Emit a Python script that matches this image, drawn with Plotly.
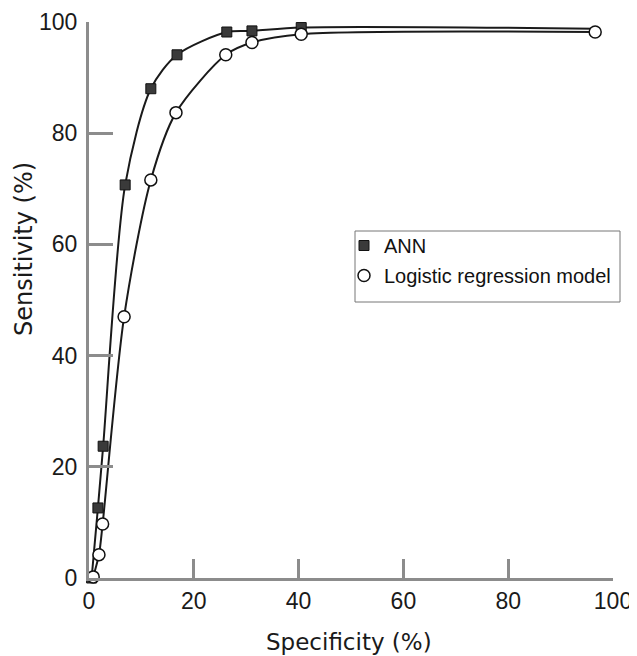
import plotly.graph_objects as go

# Data
ann_spec = [0.5, 1.7, 2.7, 6.9, 11.8, 16.8, 26.3, 31.1, 40.5, 96.6]
ann_sens = [0.0, 12.6, 23.7, 70.7, 88.0, 94.1, 98.2, 98.4, 99.0, 98.8]
lr_spec = [0.8, 1.9, 2.6, 6.7, 11.8, 16.6, 26.1, 31.1, 40.5, 96.6]
lr_sens = [0.2, 4.2, 9.7, 47.0, 71.6, 83.7, 94.1, 96.3, 97.8, 98.2]
x_ticks = [0, 20, 40, 60, 80, 100]
y_ticks = [0, 20, 40, 60, 80, 100]

FONT = "Liberation Sans, Arial, sans-serif"
TITLE_FONT = "DejaVu Sans, Verdana, sans-serif"
AXIS_GRAY = "#8c8c8c"
INK = "#1a1a1a"

fig = go.Figure()

fig.add_trace(go.Scatter(
    x=ann_spec, y=ann_sens, mode="lines",
    line=dict(color=INK, width=2, shape="spline", smoothing=0.8),
    showlegend=False, cliponaxis=False, hoverinfo="skip"))
fig.add_trace(go.Scatter(
    x=lr_spec, y=lr_sens, mode="lines",
    line=dict(color=INK, width=2, shape="spline", smoothing=0.8),
    showlegend=False, cliponaxis=False, hoverinfo="skip"))
fig.add_trace(go.Scatter(
    x=ann_spec[:-1], y=ann_sens[:-1], mode="markers", name="ANN", legendgroup="a",
    marker=dict(symbol="square", size=10, color="#3a3a3a", line=dict(color="#111111", width=1)),
    cliponaxis=False))
fig.add_trace(go.Scatter(
    x=lr_spec, y=lr_sens, mode="markers", name="Logistic regression model", legendgroup="b",
    marker=dict(symbol="circle", size=12, color="white", line=dict(color="#111111", width=1.5)),
    cliponaxis=False))

# page pixel geometry (the page body adds an 8px offset)
OFF = 8
PAGE_W, PAGE_H = 637, 656
PLOT_L, PLOT_R, PLOT_T, PLOT_B = 89, 613, 22, 578
W, H = PAGE_W - OFF, PAGE_H - OFF


def px_to_paper(px, py):
    return (px - PLOT_L) / (PLOT_R - PLOT_L), (PLOT_B - py) / (PLOT_B - PLOT_T)


lx0, ly0 = px_to_paper(355, 231)
lx1, ly1 = px_to_paper(620, 302)
leg_x, leg_y = px_to_paper(344, 226)
ytx, yty = px_to_paper(24, 249)
xtx, xty = px_to_paper(349, 642)

fig.update_layout(
    width=W, height=H,
    margin=dict(l=PLOT_L - OFF, r=W - (PLOT_R - OFF), t=PLOT_T - OFF, b=H - (PLOT_B - OFF)),
    paper_bgcolor="white", plot_bgcolor="white",
    font=dict(family=FONT, color=INK),
    legend=dict(
        x=leg_x, y=leg_y, xanchor="left", yanchor="top",
        bgcolor="rgba(0,0,0,0)", borderwidth=0,
        font=dict(size=20, family=FONT, color="#111111"),
        itemwidth=30, tracegroupgap=1,
    ),
    shapes=[dict(type="rect", xref="paper", yref="paper", x0=lx0, y0=ly0, x1=lx1, y1=ly1,
                 line=dict(color="#777777", width=1), fillcolor="rgba(0,0,0,0)", layer="below")],
    annotations=[
        dict(text="Sensitivity (%)", xref="paper", yref="paper", x=ytx, y=yty,
             textangle=-90, showarrow=False, xanchor="center", yanchor="middle",
             font=dict(size=24, family=TITLE_FONT, color=INK)),
        dict(text="Specificity (%)", xref="paper", yref="paper", x=xtx, y=xty,
             showarrow=False, xanchor="center", yanchor="middle",
             font=dict(size=23, family=TITLE_FONT, color=INK)),
    ],
)

fig.update_xaxes(
    range=[0, 100], tickvals=x_ticks, ticktext=[str(v) for v in x_ticks],
    showgrid=False, zeroline=False, showline=True, linecolor=AXIS_GRAY, linewidth=3,
    ticks="inside", ticklen=19, tickwidth=3, tickcolor=AXIS_GRAY,
    tickfont=dict(size=23, family=FONT, color=INK), automargin=False,
)
fig.update_yaxes(
    range=[0, 100], tickvals=y_ticks, ticktext=[str(v) for v in y_ticks],
    showgrid=False, zeroline=False, showline=True, linecolor=AXIS_GRAY, linewidth=3,
    ticks="inside", ticklen=24, tickwidth=3, tickcolor=AXIS_GRAY,
    tickfont=dict(size=23, family=FONT, color=INK), automargin=False,
    ticklabelstandoff=4,
)

fig.write_html("out.html")
